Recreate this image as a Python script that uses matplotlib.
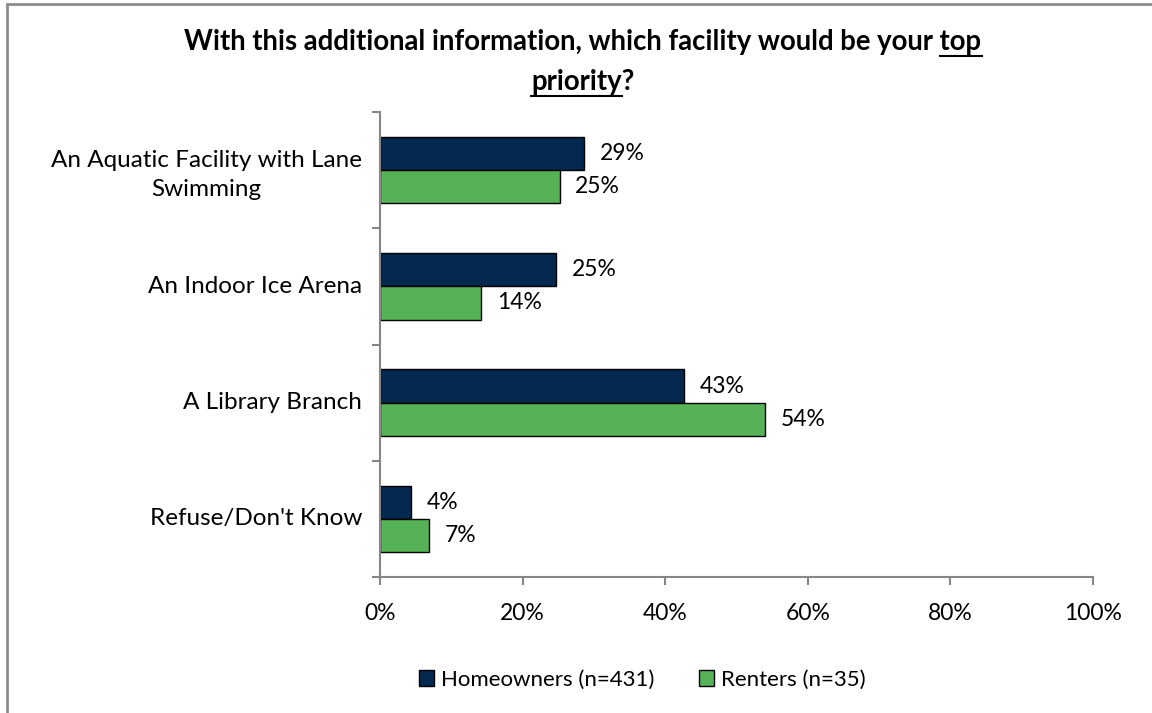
import numpy as np
import matplotlib
matplotlib.use("Agg")
import matplotlib.pyplot as plt
from matplotlib.patches import Rectangle
from matplotlib.lines import Line2D
from matplotlib.transforms import blended_transform_factory

plt.rcParams['font.family'] = ['Lato', 'DejaVu Sans']

# data
categories = ["An Aquatic Facility with Lane\nSwimming", "An Indoor Ice Arena",
              "A Library Branch", "Refuse/Don't Know"]
homeowners = [28.6, 24.7, 42.6, 4.3]
renters = [25.2, 14.2, 54.0, 6.9]
home_labels = ["29%", "25%", "43%", "4%"]
rent_labels = ["25%", "14%", "54%", "7%"]
series_names = ["Homeowners (n=431)", "Renters (n=35)"]
xticks = [0, 20, 40, 60, 80, 100]

navy = "#03294f"
green = "#56b157"
grey = "#868686"
TITLE_FS = 19.8
CAT_FS = 17.5
NUM_FS = 16.5

W, H = 1152, 713
fig = plt.figure(figsize=(W / 100, H / 100), dpi=100)
ax = fig.add_axes([380 / W, 1 - 577 / H, (1093 - 380) / W, (577 - 112) / H])

y = np.arange(len(categories))
h = 0.285
ax.barh(y - h / 2, homeowners, height=h, color=navy, edgecolor="black", linewidth=1.0,
        label=series_names[0])
ax.barh(y + h / 2, renters, height=h, color=green, edgecolor="black", linewidth=1.0,
        label=series_names[1])

for i in range(len(categories)):
    ax.text(homeowners[i] + 2.2, y[i] - h / 2, home_labels[i], va="center", ha="left", fontsize=NUM_FS)
    ax.text(renters[i] + 2.2, y[i] + h / 2, rent_labels[i], va="center", ha="left", fontsize=NUM_FS)

ax.set_xlim(0, 100)
ax.set_ylim(len(categories) - 0.5, -0.5)
ax.set_xticks(xticks)
ax.set_xticklabels([f"{t}%" for t in xticks], fontsize=NUM_FS)
ax.set_yticks(np.arange(len(categories) + 1) - 0.5)
ax.set_yticklabels([])
ax.tick_params(axis="x", direction="out", length=6, width=1.5, color=grey, pad=13)
ax.tick_params(axis="y", direction="out", length=6, width=1.5, color=grey)
for s in ["top", "right"]:
    ax.spines[s].set_visible(False)
for s in ["left", "bottom"]:
    ax.spines[s].set_color(grey)
    ax.spines[s].set_linewidth(1.5)

# category labels (wrapped label is centred under its first line, block right-aligned)
trans = blended_transform_factory(ax.transAxes, ax.transData)
xr = -18 / 713
for i, cat in enumerate(categories):
    dy = 0.04 if "\n" in cat else 0.0
    ax.text(xr, y[i] + dy, cat, ha="right", va="center", multialignment="center",
            linespacing=1.45, fontsize=CAT_FS, transform=trans)

# legend
ax.legend(loc="center", bbox_to_anchor=(642 / W, 1 - 680 / H), bbox_transform=fig.transFigure,
          ncol=2, frameon=False, fontsize=16, handlelength=0.7, handleheight=0.7,
          handletextpad=0.3, columnspacing=2.0)

# title with underlined words
tx = 583 / W
base1 = 1 - 50 / H
base2 = 1 - 90 / H
t1 = fig.text(tx, base1, "With this additional information, which facility would be your top",
              ha="center", va="baseline", fontsize=TITLE_FS, fontweight="bold")
t2 = fig.text(tx, base2, "priority?", ha="center", va="baseline", fontsize=TITLE_FS,
              fontweight="bold")
fig.canvas.draw()
r = fig.canvas.get_renderer()


def word_width(word):
    tmp = fig.text(0, 0, word, fontsize=TITLE_FS, fontweight="bold")
    w = tmp.get_window_extent(r).width
    tmp.remove()
    return w


b1 = t1.get_window_extent(r)
b2 = t2.get_window_extent(r)
w_top = word_width("top")
w_pri = word_width("priority")
for x0, x1, base in [(b1.x1 - w_top, b1.x1, base1), (b2.x0, b2.x0 + w_pri, base2)]:
    yy = base - 6 / H
    fig.add_artist(Line2D([x0 / W, x1 / W], [yy, yy], color="black", linewidth=1.5,
                          transform=fig.transFigure))

# outer frame of the chart area
fig.add_artist(Rectangle((7 / W, -0.1), 1.2, 1.1 - 4 / H, fill=False, edgecolor="#8c8c8c",
                         linewidth=2, transform=fig.transFigure))

fig.savefig("out.png", dpi=100)
